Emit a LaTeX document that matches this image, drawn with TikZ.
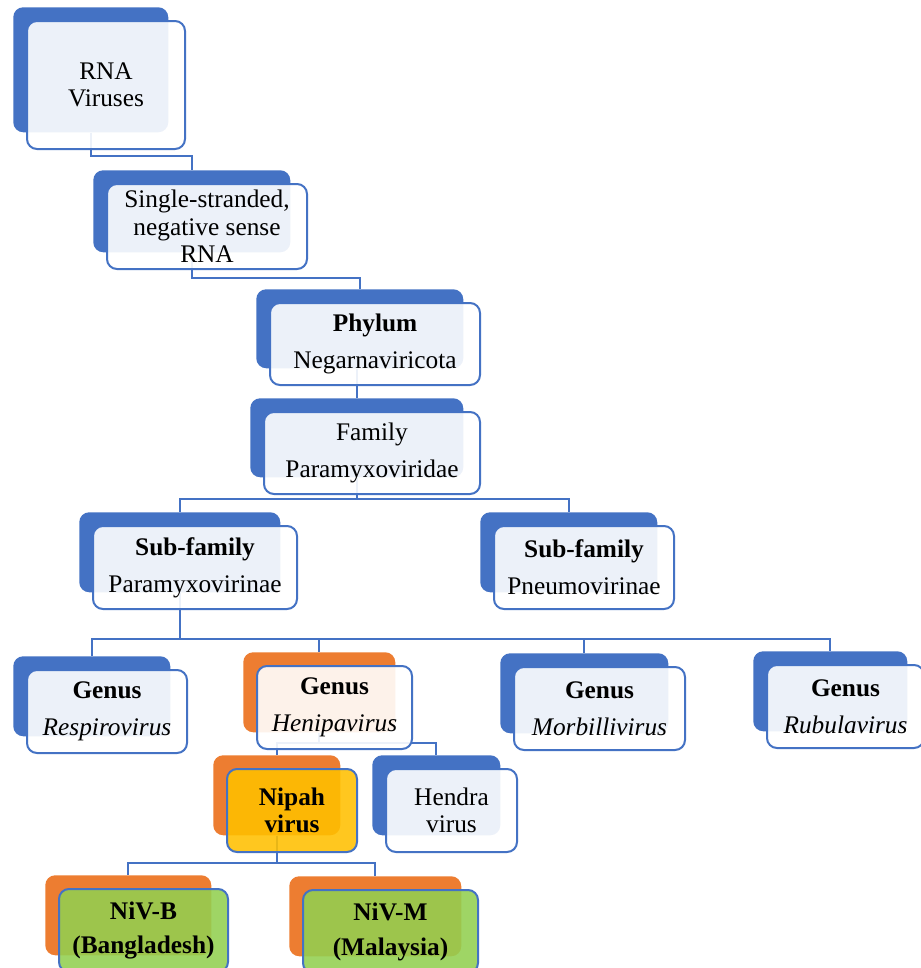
\documentclass[tikz,border=0pt]{standalone}
\usepackage{fontspec}
\setmainfont{Liberation Serif}
\usetikzlibrary{calc}
\pgfdeclarelayer{background}
\pgfsetlayers{background,main}
\definecolor{accblue}{HTML}{4472C4}
\definecolor{accorange}{HTML}{ED7D31}
\definecolor{accgold}{HTML}{FFC000}
\definecolor{accgreen}{HTML}{92D050}
\tikzset{
  backbox/.style={rectangle, rounded corners=7.5pt, draw=none, inner sep=0pt, anchor=north west},
  frontbox/.style={rectangle, rounded corners=7.5pt, draw=accblue, line width=1.5pt,
    fill=white, fill opacity=0.9, text opacity=1, inner sep=0pt, align=center,
    anchor=north west, font=\fontsize{19}{20.6}\selectfont},
  goldfront/.style={fill=accgold, fill opacity=0.88},
  greenfront/.style={fill=accgreen, fill opacity=0.88},
  conn/.style={draw=accblue, line width=1.5pt},
}
\newcommand\taxbox[8]{%
  \node[backbox, fill=#2, minimum width=#5*0.75pt, minimum height=#6*0.75pt] (#1b) at (#3,#4) {};
  \node[frontbox, #7, minimum width=(#5+3)*0.75pt, minimum height=(#6+3)*0.75pt] (#1) at (#3+13,#4+13) {#8};
}
\begin{document}
\begin{tikzpicture}[x=0.75pt,y=-0.75pt]
\useasboundingbox (0,0) rectangle (921,968);
\begin{pgfonlayer}{background}
  \fill[white] (0,0) rectangle (921,968);
\end{pgfonlayer}
\clip (0,0) rectangle (921,968);

\taxbox{rna}{accblue}{93}{170}{197}{82}{}{Single-stranded,\\negative sense\\RNA}
\taxbox{top}{accblue}{13}{7}{155}{125}{}{RNA\\Viruses}
\taxbox{phy}{accblue}{256}{289}{207}{79}{}{\textbf{Phylum}\\[7.2pt]Negarnaviricota}
\taxbox{fam}{accblue}{250}{398}{213}{79}{}{Family\\[7.2pt]Paramyxoviridae}
\taxbox{suba}{accblue}{79}{512}{201}{80}{}{\textbf{Sub-family}\\[7.2pt]Paramyxovirinae}
\taxbox{subb}{accblue}{480}{512}{177}{80}{}{\textbf{Sub-family}\\[7.2pt]Pneumovirinae}
\taxbox{resp}{accblue}{13}{656}{157}{80}{}{\textbf{Genus}\\[7.2pt]\textit{Respirovirus}}
\taxbox{heni}{accorange}{243}{652}{152}{80}{}{\textbf{Genus}\\[7.2pt]\textit{Henipavirus}}
\taxbox{morb}{accblue}{500}{653}{168}{80}{}{\textbf{Genus}\\[7.2pt]\textit{Morbillivirus}}
\taxbox{rubu}{accblue}{753}{651}{154}{80}{}{\textbf{Genus}\\[7.2pt]\textit{Rubulavirus}}
\taxbox{nipah}{accorange}{213}{755}{127}{80}{goldfront}{\textbf{Nipah}\\\textbf{virus}}
\taxbox{hendra}{accblue}{372}{755}{128}{80}{}{Hendra\\virus}
\taxbox{nivb}{accorange}{45}{875}{166}{80}{greenfront}{\textbf{NiV-B}\\[5.6pt]\textbf{(Bangladesh)}}
\taxbox{nivm}{accorange}{289}{876}{172}{80}{greenfront}{\textbf{NiV-M}\\[5.6pt]\textbf{(Malaysia)}}

\begin{pgfonlayer}{background}
  \draw[conn] (topb.south) -- ++(0,23) -| (rnab.north);
  \draw[conn] (rnab.south) -- ++(0,25) -| (phyb.north);
  \draw[conn] (famb.north) -- (famb.north |- phyb.south);
  \draw[conn] (famb.south) -- ++(0,21) -| (subab.north);
  \draw[conn] (famb.south) -- ++(0,21) -| (subbb.north);
  \draw[conn] (subab.south) -- ++(0,46) -| (respb.north);
  \draw[conn] (subab.south) -- ++(0,46) -| (henib.north);
  \draw[conn] (subab.south) -- ++(0,46) -| (morbb.north);
  \draw[conn] (subab.south) -- ++(0,46) -| (rubub.north);
  \draw[conn] (henib.south) -- ++(0,10) -| (nipahb.north);
  \draw[conn] (henib.south) -- ++(0,10) -| (hendrab.north);
  \draw[conn] (nipahb.south) -- ++(0,27) -| (nivbb.north);
  \draw[conn] (nipahb.south) -- ++(0,27) -| (nivmb.north);
\end{pgfonlayer}
\end{tikzpicture}
\end{document}
